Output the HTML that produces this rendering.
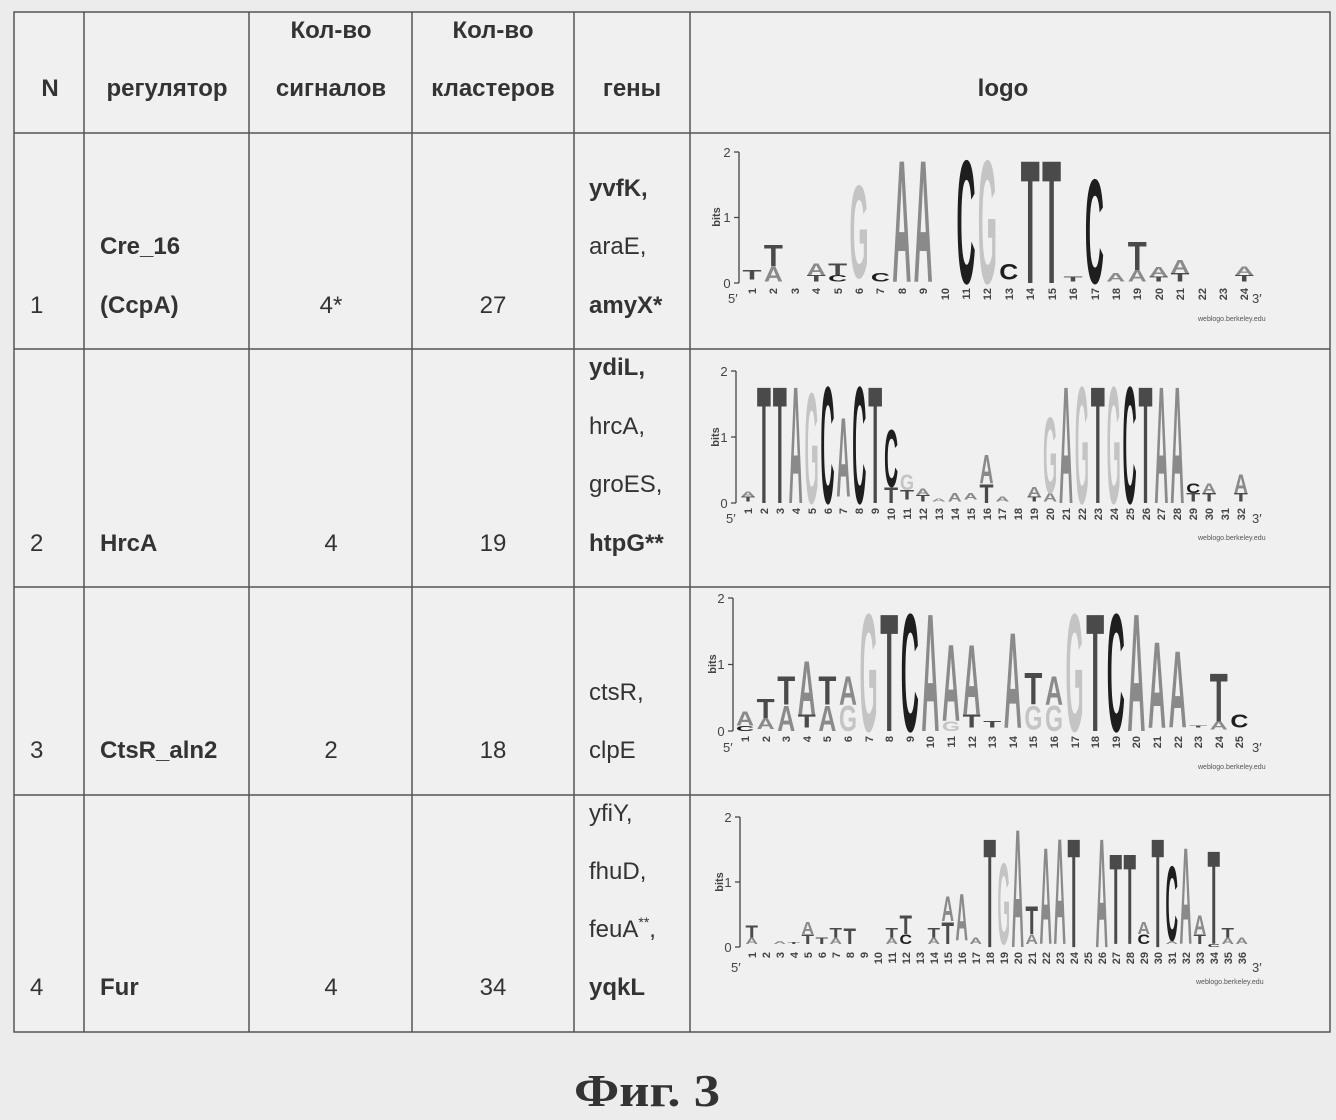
<!DOCTYPE html>
<html><head><meta charset="utf-8"><style>
html,body{margin:0;padding:0;background:#ececec}
svg{display:block}
.t{font-family:"Liberation Sans Narrow","Liberation Sans",sans-serif;font-size:24px;fill:#333}
.b{font-weight:bold}
.L{overflow:visible}
.L text{font-family:"Liberation Sans",sans-serif;font-weight:bold;font-size:100px}
.A{fill:#8a8a8a}.C{fill:#1e1e1e}.G{fill:#c4c4c4}.T{fill:#4a4a4a}
.ax{stroke:#444;stroke-width:1.3;fill:none}
.sm{font-family:"Liberation Sans",sans-serif;font-size:11px;fill:#444;font-weight:bold}
.tk{font-family:"Liberation Sans",sans-serif;font-size:13px;fill:#444}
.wb{font-family:"Liberation Sans",sans-serif;font-size:7px;fill:#555}
</style></head><body>
<svg width="1336" height="1120" viewBox="0 0 1336 1120" xmlns="http://www.w3.org/2000/svg">
<rect width="1336" height="1120" fill="#ececec"/>
<rect x="14" y="12" width="1316" height="1020" fill="#f0f0f0" stroke="#555" stroke-width="1.5"/>
<g stroke="#555" stroke-width="1.5">
<line x1="84" y1="12" x2="84" y2="1032"/><line x1="249" y1="12" x2="249" y2="1032"/>
<line x1="412" y1="12" x2="412" y2="1032"/><line x1="574" y1="12" x2="574" y2="1032"/>
<line x1="690" y1="12" x2="690" y2="1032"/>
<line x1="14" y1="133" x2="1330" y2="133"/><line x1="14" y1="349" x2="1330" y2="349"/>
<line x1="14" y1="587" x2="1330" y2="587"/><line x1="14" y1="795" x2="1330" y2="795"/>
</g>
<g class="t b" text-anchor="middle">
<text x="50" y="96">N</text><text x="167" y="96">регулятор</text>
<text x="331" y="38">Кол-во</text><text x="331" y="96">сигналов</text>
<text x="493" y="38">Кол-во</text><text x="493" y="96">кластеров</text>
<text x="632" y="96">гены</text><text x="1003" y="96">logo</text>
</g>
<g class="t">
<text x="30" y="313">1</text><text x="30" y="551">2</text><text x="30" y="758">3</text><text x="30" y="995">4</text>
<text x="100" y="254" class="b">Cre_16</text><text x="100" y="313" class="b">(CcpA)</text>
<text x="100" y="551" class="b">HrcA</text><text x="100" y="758" class="b">CtsR_aln2</text><text x="100" y="995" class="b">Fur</text>
<g text-anchor="middle">
<text x="331" y="313">4*</text><text x="493" y="313">27</text>
<text x="331" y="551">4</text><text x="493" y="551">19</text>
<text x="331" y="758">2</text><text x="493" y="758">18</text>
<text x="331" y="995">4</text><text x="493" y="995">34</text>
</g>
<text x="589" y="196" class="b">yvfK,</text><text x="589" y="254">araE,</text><text x="589" y="313" class="b">amyX*</text>
<text x="589" y="375" class="b">ydiL,</text><text x="589" y="434">hrcA,</text><text x="589" y="492">groES,</text><text x="589" y="551" class="b">htpG**</text>
<text x="589" y="700">ctsR,</text><text x="589" y="758">clpE</text>
<text x="589" y="821">yfiY,</text><text x="589" y="879">fhuD,</text><text x="589" y="937">feuA<tspan font-size="14" dy="-10">**</tspan><tspan dy="10">,</tspan></text><text x="589" y="995" class="b">yqkL</text>
</g>

<!-- LOGO 1 -->
<g>
<path class="ax" d="M739 152V283M734 152H739M734 217.5H739M734 283H739"/>
<text class="tk" x="727" y="157" text-anchor="middle">2</text><text class="tk" x="727" y="222" text-anchor="middle">1</text><text class="tk" x="727" y="288" text-anchor="middle">0</text>
<text class="sm" transform="translate(720,217) rotate(-90)" text-anchor="middle">bits</text>
<text class="tk" x="728" y="303">5′</text><text class="tk" x="1252" y="303">3′</text>
<text class="wb" x="1198" y="321">weblogo.berkeley.edu</text>
<g class="sm" text-anchor="end">
<text transform="translate(756,288) rotate(-90)">1</text><text transform="translate(777,288) rotate(-90)">2</text><text transform="translate(799,288) rotate(-90)">3</text><text transform="translate(820,288) rotate(-90)">4</text><text transform="translate(842,288) rotate(-90)">5</text><text transform="translate(863,288) rotate(-90)">6</text><text transform="translate(884,288) rotate(-90)">7</text><text transform="translate(906,288) rotate(-90)">8</text><text transform="translate(927,288) rotate(-90)">9</text><text transform="translate(949,288) rotate(-90)">10</text><text transform="translate(970,288) rotate(-90)">11</text><text transform="translate(991,288) rotate(-90)">12</text><text transform="translate(1013,288) rotate(-90)">13</text><text transform="translate(1034,288) rotate(-90)">14</text><text transform="translate(1056,288) rotate(-90)">15</text><text transform="translate(1077,288) rotate(-90)">16</text><text transform="translate(1099,288) rotate(-90)">17</text><text transform="translate(1120,288) rotate(-90)">18</text><text transform="translate(1141,288) rotate(-90)">19</text><text transform="translate(1163,288) rotate(-90)">20</text><text transform="translate(1184,288) rotate(-90)">21</text><text transform="translate(1206,288) rotate(-90)">22</text><text transform="translate(1227,288) rotate(-90)">23</text><text transform="translate(1248,288) rotate(-90)">24</text>
</g>
<g transform="translate(4,0)">
<svg class="L" x="738.5" y="269.8" width="19" height="9.9" viewBox="0 0 70 73" preserveAspectRatio="none"><text class="T" y="73" textLength="70" lengthAdjust="spacingAndGlyphs">T</text></svg>
<svg class="L" x="759.9" y="266.5" width="19" height="15.2" viewBox="0 0 70 73" preserveAspectRatio="none"><text class="A" y="73" textLength="70" lengthAdjust="spacingAndGlyphs">A</text></svg>
<svg class="L" x="759.9" y="243.4" width="19" height="23.1" viewBox="0 0 70 73" preserveAspectRatio="none"><text class="T" y="73" textLength="70" lengthAdjust="spacingAndGlyphs">T</text></svg>
<svg class="L" x="802.7" y="275.1" width="19" height="6.6" viewBox="0 0 70 73" preserveAspectRatio="none"><text class="T" y="73" textLength="70" lengthAdjust="spacingAndGlyphs">T</text></svg>
<svg class="L" x="802.7" y="263.2" width="19" height="11.9" viewBox="0 0 70 73" preserveAspectRatio="none"><text class="A" y="73" textLength="70" lengthAdjust="spacingAndGlyphs">A</text></svg>
<svg class="L" x="824.1" y="275.1" width="19" height="6.6" viewBox="0 0 70 73" preserveAspectRatio="none"><text class="C" y="73" textLength="70" lengthAdjust="spacingAndGlyphs">C</text></svg>
<svg class="L" x="824.1" y="263.2" width="19" height="11.9" viewBox="0 0 70 73" preserveAspectRatio="none"><text class="T" y="73" textLength="70" lengthAdjust="spacingAndGlyphs">T</text></svg>
<svg class="L" x="845.5" y="180.7" width="19" height="97" viewBox="0 0 70 73" preserveAspectRatio="none"><text class="G" y="73" textLength="70" lengthAdjust="spacingAndGlyphs">G</text></svg>
<svg class="L" x="866.9" y="273.1" width="19" height="8.6" viewBox="0 0 70 73" preserveAspectRatio="none"><text class="C" y="73" textLength="70" lengthAdjust="spacingAndGlyphs">C</text></svg>
<svg class="L" x="888.3" y="154.3" width="19" height="127.4" viewBox="0 0 70 73" preserveAspectRatio="none"><text class="A" y="73" textLength="70" lengthAdjust="spacingAndGlyphs">A</text></svg>
<svg class="L" x="909.7" y="154.3" width="19" height="127.4" viewBox="0 0 70 73" preserveAspectRatio="none"><text class="A" y="73" textLength="70" lengthAdjust="spacingAndGlyphs">A</text></svg>
<svg class="L" x="952.5" y="154.3" width="19" height="128.7" viewBox="0 0 70 73" preserveAspectRatio="none"><text class="C" y="73" textLength="70" lengthAdjust="spacingAndGlyphs">C</text></svg>
<svg class="L" x="973.9" y="154.3" width="19" height="128.7" viewBox="0 0 70 73" preserveAspectRatio="none"><text class="G" y="73" textLength="70" lengthAdjust="spacingAndGlyphs">G</text></svg>
<svg class="L" x="995.3" y="263.2" width="19" height="16.5" viewBox="0 0 70 73" preserveAspectRatio="none"><text class="C" y="73" textLength="70" lengthAdjust="spacingAndGlyphs">C</text></svg>
<svg class="L" x="1016.7" y="154.3" width="19" height="128.7" viewBox="0 0 70 73" preserveAspectRatio="none"><text class="T" y="73" textLength="70" lengthAdjust="spacingAndGlyphs">T</text></svg>
<svg class="L" x="1038.1" y="154.3" width="19" height="128.7" viewBox="0 0 70 73" preserveAspectRatio="none"><text class="T" y="73" textLength="70" lengthAdjust="spacingAndGlyphs">T</text></svg>
<svg class="L" x="1059.5" y="276.4" width="19" height="5.3" viewBox="0 0 70 73" preserveAspectRatio="none"><text class="T" y="73" textLength="70" lengthAdjust="spacingAndGlyphs">T</text></svg>
<svg class="L" x="1080.9" y="174.1" width="19" height="108.9" viewBox="0 0 70 73" preserveAspectRatio="none"><text class="C" y="73" textLength="70" lengthAdjust="spacingAndGlyphs">C</text></svg>
<svg class="L" x="1102.3" y="273.1" width="19" height="8.6" viewBox="0 0 70 73" preserveAspectRatio="none"><text class="A" y="73" textLength="70" lengthAdjust="spacingAndGlyphs">A</text></svg>
<svg class="L" x="1123.7" y="269.8" width="19" height="11.9" viewBox="0 0 70 73" preserveAspectRatio="none"><text class="A" y="73" textLength="70" lengthAdjust="spacingAndGlyphs">A</text></svg>
<svg class="L" x="1123.7" y="240.1" width="19" height="29.7" viewBox="0 0 70 73" preserveAspectRatio="none"><text class="T" y="73" textLength="70" lengthAdjust="spacingAndGlyphs">T</text></svg>
<svg class="L" x="1145.1" y="276.4" width="19" height="5.3" viewBox="0 0 70 73" preserveAspectRatio="none"><text class="T" y="73" textLength="70" lengthAdjust="spacingAndGlyphs">T</text></svg>
<svg class="L" x="1145.1" y="266.5" width="19" height="9.9" viewBox="0 0 70 73" preserveAspectRatio="none"><text class="A" y="73" textLength="70" lengthAdjust="spacingAndGlyphs">A</text></svg>
<svg class="L" x="1166.5" y="273.1" width="19" height="8.6" viewBox="0 0 70 73" preserveAspectRatio="none"><text class="T" y="73" textLength="70" lengthAdjust="spacingAndGlyphs">T</text></svg>
<svg class="L" x="1166.5" y="259.9" width="19" height="13.2" viewBox="0 0 70 73" preserveAspectRatio="none"><text class="A" y="73" textLength="70" lengthAdjust="spacingAndGlyphs">A</text></svg>
<svg class="L" x="1230.7" y="275.1" width="19" height="6.6" viewBox="0 0 70 73" preserveAspectRatio="none"><text class="T" y="73" textLength="70" lengthAdjust="spacingAndGlyphs">T</text></svg>
<svg class="L" x="1230.7" y="266.5" width="19" height="8.6" viewBox="0 0 70 73" preserveAspectRatio="none"><text class="A" y="73" textLength="70" lengthAdjust="spacingAndGlyphs">A</text></svg>
</g>
</g>

<!-- LOGO 2 -->
<g>
<path class="ax" d="M736 371V503M731 371H736M731 437H736M731 503H736"/>
<text class="tk" x="724" y="376" text-anchor="middle">2</text><text class="tk" x="724" y="442" text-anchor="middle">1</text><text class="tk" x="724" y="508" text-anchor="middle">0</text>
<text class="sm" transform="translate(719,437) rotate(-90)" text-anchor="middle">bits</text>
<text class="tk" x="726" y="523">5′</text><text class="tk" x="1252" y="523">3′</text>
<text class="wb" x="1198" y="540">weblogo.berkeley.edu</text>
<g class="sm" text-anchor="end">
<text transform="translate(752,508) rotate(-90)">1</text><text transform="translate(768,508) rotate(-90)">2</text><text transform="translate(784,508) rotate(-90)">3</text><text transform="translate(800,508) rotate(-90)">4</text><text transform="translate(816,508) rotate(-90)">5</text><text transform="translate(832,508) rotate(-90)">6</text><text transform="translate(847,508) rotate(-90)">7</text><text transform="translate(863,508) rotate(-90)">8</text><text transform="translate(879,508) rotate(-90)">9</text><text transform="translate(895,508) rotate(-90)">10</text><text transform="translate(911,508) rotate(-90)">11</text><text transform="translate(927,508) rotate(-90)">12</text><text transform="translate(943,508) rotate(-90)">13</text><text transform="translate(959,508) rotate(-90)">14</text><text transform="translate(975,508) rotate(-90)">15</text><text transform="translate(991,508) rotate(-90)">16</text><text transform="translate(1006,508) rotate(-90)">17</text><text transform="translate(1022,508) rotate(-90)">18</text><text transform="translate(1038,508) rotate(-90)">19</text><text transform="translate(1054,508) rotate(-90)">20</text><text transform="translate(1070,508) rotate(-90)">21</text><text transform="translate(1086,508) rotate(-90)">22</text><text transform="translate(1102,508) rotate(-90)">23</text><text transform="translate(1118,508) rotate(-90)">24</text><text transform="translate(1134,508) rotate(-90)">25</text><text transform="translate(1150,508) rotate(-90)">26</text><text transform="translate(1165,508) rotate(-90)">27</text><text transform="translate(1181,508) rotate(-90)">28</text><text transform="translate(1197,508) rotate(-90)">29</text><text transform="translate(1213,508) rotate(-90)">30</text><text transform="translate(1229,508) rotate(-90)">31</text><text transform="translate(1245,508) rotate(-90)">32</text>
</g>
<svg class="L" x="741" y="496.4" width="14" height="5.3" viewBox="0 0 70 73" preserveAspectRatio="none"><text class="T" y="73" textLength="70" lengthAdjust="spacingAndGlyphs">T</text></svg>
<svg class="L" x="741" y="491.1" width="14" height="5.3" viewBox="0 0 70 73" preserveAspectRatio="none"><text class="A" y="73" textLength="70" lengthAdjust="spacingAndGlyphs">A</text></svg>
<svg class="L" x="756.9" y="380.9" width="14" height="122.1" viewBox="0 0 70 73" preserveAspectRatio="none"><text class="T" y="73" textLength="70" lengthAdjust="spacingAndGlyphs">T</text></svg>
<svg class="L" x="772.8" y="380.9" width="14" height="122.1" viewBox="0 0 70 73" preserveAspectRatio="none"><text class="T" y="73" textLength="70" lengthAdjust="spacingAndGlyphs">T</text></svg>
<svg class="L" x="788.7" y="380.9" width="14" height="122.1" viewBox="0 0 70 73" preserveAspectRatio="none"><text class="A" y="73" textLength="70" lengthAdjust="spacingAndGlyphs">A</text></svg>
<svg class="L" x="804.6" y="387.5" width="14" height="115.5" viewBox="0 0 70 73" preserveAspectRatio="none"><text class="G" y="73" textLength="70" lengthAdjust="spacingAndGlyphs">G</text></svg>
<svg class="L" x="820.5" y="380.9" width="14" height="122.1" viewBox="0 0 70 73" preserveAspectRatio="none"><text class="C" y="73" textLength="70" lengthAdjust="spacingAndGlyphs">C</text></svg>
<svg class="L" x="836.4" y="413.9" width="14" height="82.5" viewBox="0 0 70 73" preserveAspectRatio="none"><text class="A" y="73" textLength="70" lengthAdjust="spacingAndGlyphs">A</text></svg>
<svg class="L" x="852.3" y="380.9" width="14" height="122.1" viewBox="0 0 70 73" preserveAspectRatio="none"><text class="C" y="73" textLength="70" lengthAdjust="spacingAndGlyphs">C</text></svg>
<svg class="L" x="868.2" y="380.9" width="14" height="122.1" viewBox="0 0 70 73" preserveAspectRatio="none"><text class="T" y="73" textLength="70" lengthAdjust="spacingAndGlyphs">T</text></svg>
<svg class="L" x="884.1" y="486.5" width="14" height="16.5" viewBox="0 0 70 73" preserveAspectRatio="none"><text class="T" y="73" textLength="70" lengthAdjust="spacingAndGlyphs">T</text></svg>
<svg class="L" x="884.1" y="427.1" width="14" height="59.4" viewBox="0 0 70 73" preserveAspectRatio="none"><text class="C" y="73" textLength="70" lengthAdjust="spacingAndGlyphs">C</text></svg>
<svg class="L" x="900" y="489.8" width="14" height="9.9" viewBox="0 0 70 73" preserveAspectRatio="none"><text class="T" y="73" textLength="70" lengthAdjust="spacingAndGlyphs">T</text></svg>
<svg class="L" x="900" y="473.3" width="14" height="16.5" viewBox="0 0 70 73" preserveAspectRatio="none"><text class="G" y="73" textLength="70" lengthAdjust="spacingAndGlyphs">G</text></svg>
<svg class="L" x="915.9" y="495.1" width="14" height="6.6" viewBox="0 0 70 73" preserveAspectRatio="none"><text class="T" y="73" textLength="70" lengthAdjust="spacingAndGlyphs">T</text></svg>
<svg class="L" x="915.9" y="488.5" width="14" height="6.6" viewBox="0 0 70 73" preserveAspectRatio="none"><text class="A" y="73" textLength="70" lengthAdjust="spacingAndGlyphs">A</text></svg>
<svg class="L" x="931.8" y="498.4" width="14" height="3" viewBox="0 0 70 73" preserveAspectRatio="none"><text class="A" y="73" textLength="70" lengthAdjust="spacingAndGlyphs">A</text></svg>
<svg class="L" x="947.7" y="493.1" width="14" height="8.6" viewBox="0 0 70 73" preserveAspectRatio="none"><text class="A" y="73" textLength="70" lengthAdjust="spacingAndGlyphs">A</text></svg>
<svg class="L" x="963.6" y="493.1" width="14" height="6.6" viewBox="0 0 70 73" preserveAspectRatio="none"><text class="A" y="73" textLength="70" lengthAdjust="spacingAndGlyphs">A</text></svg>
<svg class="L" x="979.5" y="483.2" width="14" height="19.8" viewBox="0 0 70 73" preserveAspectRatio="none"><text class="T" y="73" textLength="70" lengthAdjust="spacingAndGlyphs">T</text></svg>
<svg class="L" x="979.5" y="453.5" width="14" height="29.7" viewBox="0 0 70 73" preserveAspectRatio="none"><text class="A" y="73" textLength="70" lengthAdjust="spacingAndGlyphs">A</text></svg>
<svg class="L" x="995.4" y="496.4" width="14" height="5.3" viewBox="0 0 70 73" preserveAspectRatio="none"><text class="A" y="73" textLength="70" lengthAdjust="spacingAndGlyphs">A</text></svg>
<svg class="L" x="1027.2" y="496.4" width="14" height="5.3" viewBox="0 0 70 73" preserveAspectRatio="none"><text class="T" y="73" textLength="70" lengthAdjust="spacingAndGlyphs">T</text></svg>
<svg class="L" x="1027.2" y="486.5" width="14" height="9.9" viewBox="0 0 70 73" preserveAspectRatio="none"><text class="A" y="73" textLength="70" lengthAdjust="spacingAndGlyphs">A</text></svg>
<svg class="L" x="1043.1" y="493.1" width="14" height="8.6" viewBox="0 0 70 73" preserveAspectRatio="none"><text class="A" y="73" textLength="70" lengthAdjust="spacingAndGlyphs">A</text></svg>
<svg class="L" x="1043.1" y="413.9" width="14" height="79.2" viewBox="0 0 70 73" preserveAspectRatio="none"><text class="G" y="73" textLength="70" lengthAdjust="spacingAndGlyphs">G</text></svg>
<svg class="L" x="1059" y="380.9" width="14" height="122.1" viewBox="0 0 70 73" preserveAspectRatio="none"><text class="A" y="73" textLength="70" lengthAdjust="spacingAndGlyphs">A</text></svg>
<svg class="L" x="1074.9" y="380.9" width="14" height="122.1" viewBox="0 0 70 73" preserveAspectRatio="none"><text class="G" y="73" textLength="70" lengthAdjust="spacingAndGlyphs">G</text></svg>
<svg class="L" x="1090.8" y="380.9" width="14" height="122.1" viewBox="0 0 70 73" preserveAspectRatio="none"><text class="T" y="73" textLength="70" lengthAdjust="spacingAndGlyphs">T</text></svg>
<svg class="L" x="1106.7" y="380.9" width="14" height="122.1" viewBox="0 0 70 73" preserveAspectRatio="none"><text class="G" y="73" textLength="70" lengthAdjust="spacingAndGlyphs">G</text></svg>
<svg class="L" x="1122.6" y="380.9" width="14" height="122.1" viewBox="0 0 70 73" preserveAspectRatio="none"><text class="C" y="73" textLength="70" lengthAdjust="spacingAndGlyphs">C</text></svg>
<svg class="L" x="1138.5" y="380.9" width="14" height="122.1" viewBox="0 0 70 73" preserveAspectRatio="none"><text class="T" y="73" textLength="70" lengthAdjust="spacingAndGlyphs">T</text></svg>
<svg class="L" x="1154.4" y="380.9" width="14" height="122.1" viewBox="0 0 70 73" preserveAspectRatio="none"><text class="A" y="73" textLength="70" lengthAdjust="spacingAndGlyphs">A</text></svg>
<svg class="L" x="1170.3" y="380.9" width="14" height="122.1" viewBox="0 0 70 73" preserveAspectRatio="none"><text class="A" y="73" textLength="70" lengthAdjust="spacingAndGlyphs">A</text></svg>
<svg class="L" x="1186.2" y="493.1" width="14" height="8.6" viewBox="0 0 70 73" preserveAspectRatio="none"><text class="T" y="73" textLength="70" lengthAdjust="spacingAndGlyphs">T</text></svg>
<svg class="L" x="1186.2" y="483.2" width="14" height="9.9" viewBox="0 0 70 73" preserveAspectRatio="none"><text class="C" y="73" textLength="70" lengthAdjust="spacingAndGlyphs">C</text></svg>
<svg class="L" x="1202.1" y="493.1" width="14" height="8.6" viewBox="0 0 70 73" preserveAspectRatio="none"><text class="T" y="73" textLength="70" lengthAdjust="spacingAndGlyphs">T</text></svg>
<svg class="L" x="1202.1" y="483.2" width="14" height="9.9" viewBox="0 0 70 73" preserveAspectRatio="none"><text class="A" y="73" textLength="70" lengthAdjust="spacingAndGlyphs">A</text></svg>
<svg class="L" x="1233.9" y="493.1" width="14" height="8.6" viewBox="0 0 70 73" preserveAspectRatio="none"><text class="T" y="73" textLength="70" lengthAdjust="spacingAndGlyphs">T</text></svg>
<svg class="L" x="1233.9" y="473.3" width="14" height="19.8" viewBox="0 0 70 73" preserveAspectRatio="none"><text class="A" y="73" textLength="70" lengthAdjust="spacingAndGlyphs">A</text></svg>
</g>

<!-- LOGO 3 -->
<g>
<path class="ax" d="M733 598V731M728 598H733M728 664.5H733M728 731H733"/>
<text class="tk" x="721" y="603" text-anchor="middle">2</text><text class="tk" x="721" y="669" text-anchor="middle">1</text><text class="tk" x="721" y="736" text-anchor="middle">0</text>
<text class="sm" transform="translate(716,664) rotate(-90)" text-anchor="middle">bits</text>
<text class="tk" x="723" y="752">5′</text><text class="tk" x="1252" y="752">3′</text>
<text class="wb" x="1198" y="769">weblogo.berkeley.edu</text>
<g class="sm" text-anchor="end">
<text transform="translate(749,736) rotate(-90)">1</text><text transform="translate(770,736) rotate(-90)">2</text><text transform="translate(790,736) rotate(-90)">3</text><text transform="translate(811,736) rotate(-90)">4</text><text transform="translate(831,736) rotate(-90)">5</text><text transform="translate(852,736) rotate(-90)">6</text><text transform="translate(873,736) rotate(-90)">7</text><text transform="translate(893,736) rotate(-90)">8</text><text transform="translate(914,736) rotate(-90)">9</text><text transform="translate(934,736) rotate(-90)">10</text><text transform="translate(955,736) rotate(-90)">11</text><text transform="translate(976,736) rotate(-90)">12</text><text transform="translate(996,736) rotate(-90)">13</text><text transform="translate(1017,736) rotate(-90)">14</text><text transform="translate(1037,736) rotate(-90)">15</text><text transform="translate(1058,736) rotate(-90)">16</text><text transform="translate(1079,736) rotate(-90)">17</text><text transform="translate(1099,736) rotate(-90)">18</text><text transform="translate(1120,736) rotate(-90)">19</text><text transform="translate(1140,736) rotate(-90)">20</text><text transform="translate(1161,736) rotate(-90)">21</text><text transform="translate(1182,736) rotate(-90)">22</text><text transform="translate(1202,736) rotate(-90)">23</text><text transform="translate(1223,736) rotate(-90)">24</text><text transform="translate(1243,736) rotate(-90)">25</text>
</g>
<svg class="L" x="736" y="725.7" width="18" height="5.3" viewBox="0 0 70 73" preserveAspectRatio="none"><text class="C" y="73" textLength="70" lengthAdjust="spacingAndGlyphs">C</text></svg>
<svg class="L" x="736" y="711" width="18" height="14.6" viewBox="0 0 70 73" preserveAspectRatio="none"><text class="A" y="73" textLength="70" lengthAdjust="spacingAndGlyphs">A</text></svg>
<svg class="L" x="756.6" y="717.7" width="18" height="11.3" viewBox="0 0 70 73" preserveAspectRatio="none"><text class="A" y="73" textLength="70" lengthAdjust="spacingAndGlyphs">A</text></svg>
<svg class="L" x="756.6" y="697.8" width="18" height="20" viewBox="0 0 70 73" preserveAspectRatio="none"><text class="T" y="73" textLength="70" lengthAdjust="spacingAndGlyphs">T</text></svg>
<svg class="L" x="777.2" y="704.4" width="18" height="26.6" viewBox="0 0 70 73" preserveAspectRatio="none"><text class="A" y="73" textLength="70" lengthAdjust="spacingAndGlyphs">A</text></svg>
<svg class="L" x="777.2" y="674.5" width="18" height="29.9" viewBox="0 0 70 73" preserveAspectRatio="none"><text class="T" y="73" textLength="70" lengthAdjust="spacingAndGlyphs">T</text></svg>
<svg class="L" x="797.8" y="714.4" width="18" height="13.3" viewBox="0 0 70 73" preserveAspectRatio="none"><text class="T" y="73" textLength="70" lengthAdjust="spacingAndGlyphs">T</text></svg>
<svg class="L" x="797.8" y="657.9" width="18" height="56.5" viewBox="0 0 70 73" preserveAspectRatio="none"><text class="A" y="73" textLength="70" lengthAdjust="spacingAndGlyphs">A</text></svg>
<svg class="L" x="818.4" y="704.4" width="18" height="26.6" viewBox="0 0 70 73" preserveAspectRatio="none"><text class="A" y="73" textLength="70" lengthAdjust="spacingAndGlyphs">A</text></svg>
<svg class="L" x="818.4" y="674.5" width="18" height="29.9" viewBox="0 0 70 73" preserveAspectRatio="none"><text class="T" y="73" textLength="70" lengthAdjust="spacingAndGlyphs">T</text></svg>
<svg class="L" x="839" y="704.4" width="18" height="26.6" viewBox="0 0 70 73" preserveAspectRatio="none"><text class="G" y="73" textLength="70" lengthAdjust="spacingAndGlyphs">G</text></svg>
<svg class="L" x="839" y="674.5" width="18" height="29.9" viewBox="0 0 70 73" preserveAspectRatio="none"><text class="A" y="73" textLength="70" lengthAdjust="spacingAndGlyphs">A</text></svg>
<svg class="L" x="859.6" y="608" width="18" height="123" viewBox="0 0 70 73" preserveAspectRatio="none"><text class="G" y="73" textLength="70" lengthAdjust="spacingAndGlyphs">G</text></svg>
<svg class="L" x="880.2" y="608" width="18" height="123" viewBox="0 0 70 73" preserveAspectRatio="none"><text class="T" y="73" textLength="70" lengthAdjust="spacingAndGlyphs">T</text></svg>
<svg class="L" x="900.8" y="608" width="18" height="123" viewBox="0 0 70 73" preserveAspectRatio="none"><text class="C" y="73" textLength="70" lengthAdjust="spacingAndGlyphs">C</text></svg>
<svg class="L" x="921.4" y="608" width="18" height="123" viewBox="0 0 70 73" preserveAspectRatio="none"><text class="A" y="73" textLength="70" lengthAdjust="spacingAndGlyphs">A</text></svg>
<svg class="L" x="942" y="721" width="18" height="10" viewBox="0 0 70 73" preserveAspectRatio="none"><text class="G" y="73" textLength="70" lengthAdjust="spacingAndGlyphs">G</text></svg>
<svg class="L" x="942" y="641.2" width="18" height="79.8" viewBox="0 0 70 73" preserveAspectRatio="none"><text class="A" y="73" textLength="70" lengthAdjust="spacingAndGlyphs">A</text></svg>
<svg class="L" x="962.6" y="714.4" width="18" height="13.3" viewBox="0 0 70 73" preserveAspectRatio="none"><text class="T" y="73" textLength="70" lengthAdjust="spacingAndGlyphs">T</text></svg>
<svg class="L" x="962.6" y="641.2" width="18" height="73.2" viewBox="0 0 70 73" preserveAspectRatio="none"><text class="A" y="73" textLength="70" lengthAdjust="spacingAndGlyphs">A</text></svg>
<svg class="L" x="983.2" y="721" width="18" height="6.7" viewBox="0 0 70 73" preserveAspectRatio="none"><text class="T" y="73" textLength="70" lengthAdjust="spacingAndGlyphs">T</text></svg>
<svg class="L" x="1003.8" y="627.9" width="18" height="99.8" viewBox="0 0 70 73" preserveAspectRatio="none"><text class="A" y="73" textLength="70" lengthAdjust="spacingAndGlyphs">A</text></svg>
<svg class="L" x="1024.4" y="704.4" width="18" height="25.3" viewBox="0 0 70 73" preserveAspectRatio="none"><text class="G" y="73" textLength="70" lengthAdjust="spacingAndGlyphs">G</text></svg>
<svg class="L" x="1024.4" y="671.1" width="18" height="33.3" viewBox="0 0 70 73" preserveAspectRatio="none"><text class="T" y="73" textLength="70" lengthAdjust="spacingAndGlyphs">T</text></svg>
<svg class="L" x="1045" y="704.4" width="18" height="26.6" viewBox="0 0 70 73" preserveAspectRatio="none"><text class="G" y="73" textLength="70" lengthAdjust="spacingAndGlyphs">G</text></svg>
<svg class="L" x="1045" y="674.5" width="18" height="29.9" viewBox="0 0 70 73" preserveAspectRatio="none"><text class="A" y="73" textLength="70" lengthAdjust="spacingAndGlyphs">A</text></svg>
<svg class="L" x="1065.6" y="608" width="18" height="123" viewBox="0 0 70 73" preserveAspectRatio="none"><text class="G" y="73" textLength="70" lengthAdjust="spacingAndGlyphs">G</text></svg>
<svg class="L" x="1086.2" y="608" width="18" height="123" viewBox="0 0 70 73" preserveAspectRatio="none"><text class="T" y="73" textLength="70" lengthAdjust="spacingAndGlyphs">T</text></svg>
<svg class="L" x="1106.8" y="608" width="18" height="123" viewBox="0 0 70 73" preserveAspectRatio="none"><text class="C" y="73" textLength="70" lengthAdjust="spacingAndGlyphs">C</text></svg>
<svg class="L" x="1127.4" y="608" width="18" height="123" viewBox="0 0 70 73" preserveAspectRatio="none"><text class="A" y="73" textLength="70" lengthAdjust="spacingAndGlyphs">A</text></svg>
<svg class="L" x="1148" y="637.9" width="18" height="89.8" viewBox="0 0 70 73" preserveAspectRatio="none"><text class="A" y="73" textLength="70" lengthAdjust="spacingAndGlyphs">A</text></svg>
<svg class="L" x="1168.6" y="647.9" width="18" height="79.8" viewBox="0 0 70 73" preserveAspectRatio="none"><text class="A" y="73" textLength="70" lengthAdjust="spacingAndGlyphs">A</text></svg>
<svg class="L" x="1189.2" y="725.7" width="18" height="2" viewBox="0 0 70 73" preserveAspectRatio="none"><text class="T" y="73" textLength="70" lengthAdjust="spacingAndGlyphs">T</text></svg>
<svg class="L" x="1209.8" y="721" width="18" height="8.6" viewBox="0 0 70 73" preserveAspectRatio="none"><text class="A" y="73" textLength="70" lengthAdjust="spacingAndGlyphs">A</text></svg>
<svg class="L" x="1209.8" y="671.1" width="18" height="49.9" viewBox="0 0 70 73" preserveAspectRatio="none"><text class="T" y="73" textLength="70" lengthAdjust="spacingAndGlyphs">T</text></svg>
<svg class="L" x="1230.4" y="714.4" width="18" height="13.3" viewBox="0 0 70 73" preserveAspectRatio="none"><text class="C" y="73" textLength="70" lengthAdjust="spacingAndGlyphs">C</text></svg>
</g>

<!-- LOGO 4 -->
<g>
<path class="ax" d="M740 817V947M735 817H740M735 882H740M735 947H740"/>
<text class="tk" x="728" y="822" text-anchor="middle">2</text><text class="tk" x="728" y="887" text-anchor="middle">1</text><text class="tk" x="728" y="952" text-anchor="middle">0</text>
<text class="sm" transform="translate(723,882) rotate(-90)" text-anchor="middle">bits</text>
<text class="tk" x="731" y="972">5′</text><text class="tk" x="1252" y="972">3′</text>
<text class="wb" x="1196" y="984">weblogo.berkeley.edu</text>
<g class="sm" text-anchor="end">
<text transform="translate(756,952) rotate(-90)">1</text><text transform="translate(770,952) rotate(-90)">2</text><text transform="translate(784,952) rotate(-90)">3</text><text transform="translate(798,952) rotate(-90)">4</text><text transform="translate(812,952) rotate(-90)">5</text><text transform="translate(826,952) rotate(-90)">6</text><text transform="translate(840,952) rotate(-90)">7</text><text transform="translate(854,952) rotate(-90)">8</text><text transform="translate(868,952) rotate(-90)">9</text><text transform="translate(882,952) rotate(-90)">10</text><text transform="translate(896,952) rotate(-90)">11</text><text transform="translate(910,952) rotate(-90)">12</text><text transform="translate(924,952) rotate(-90)">13</text><text transform="translate(938,952) rotate(-90)">14</text><text transform="translate(952,952) rotate(-90)">15</text><text transform="translate(966,952) rotate(-90)">16</text><text transform="translate(980,952) rotate(-90)">17</text><text transform="translate(994,952) rotate(-90)">18</text><text transform="translate(1008,952) rotate(-90)">19</text><text transform="translate(1022,952) rotate(-90)">20</text><text transform="translate(1036,952) rotate(-90)">21</text><text transform="translate(1050,952) rotate(-90)">22</text><text transform="translate(1064,952) rotate(-90)">23</text><text transform="translate(1078,952) rotate(-90)">24</text><text transform="translate(1092,952) rotate(-90)">25</text><text transform="translate(1106,952) rotate(-90)">26</text><text transform="translate(1120,952) rotate(-90)">27</text><text transform="translate(1134,952) rotate(-90)">28</text><text transform="translate(1148,952) rotate(-90)">29</text><text transform="translate(1162,952) rotate(-90)">30</text><text transform="translate(1176,952) rotate(-90)">31</text><text transform="translate(1190,952) rotate(-90)">32</text><text transform="translate(1204,952) rotate(-90)">33</text><text transform="translate(1218,952) rotate(-90)">34</text><text transform="translate(1232,952) rotate(-90)">35</text><text transform="translate(1246,952) rotate(-90)">36</text>
</g>
<svg class="L" x="745.5" y="937.3" width="12.5" height="6.5" viewBox="0 0 70 73" preserveAspectRatio="none"><text class="A" y="73" textLength="70" lengthAdjust="spacingAndGlyphs">A</text></svg>
<svg class="L" x="745.5" y="924.3" width="12.5" height="13" viewBox="0 0 70 73" preserveAspectRatio="none"><text class="T" y="73" textLength="70" lengthAdjust="spacingAndGlyphs">T</text></svg>
<svg class="L" x="773.5" y="940.5" width="12.5" height="3.3" viewBox="0 0 70 73" preserveAspectRatio="none"><text class="A" y="73" textLength="70" lengthAdjust="spacingAndGlyphs">A</text></svg>
<svg class="L" x="787.5" y="941.8" width="12.5" height="2" viewBox="0 0 70 73" preserveAspectRatio="none"><text class="T" y="73" textLength="70" lengthAdjust="spacingAndGlyphs">T</text></svg>
<svg class="L" x="801.5" y="934" width="12.5" height="9.8" viewBox="0 0 70 73" preserveAspectRatio="none"><text class="T" y="73" textLength="70" lengthAdjust="spacingAndGlyphs">T</text></svg>
<svg class="L" x="801.5" y="921" width="12.5" height="13" viewBox="0 0 70 73" preserveAspectRatio="none"><text class="A" y="73" textLength="70" lengthAdjust="spacingAndGlyphs">A</text></svg>
<svg class="L" x="815.5" y="937.3" width="12.5" height="6.5" viewBox="0 0 70 73" preserveAspectRatio="none"><text class="T" y="73" textLength="70" lengthAdjust="spacingAndGlyphs">T</text></svg>
<svg class="L" x="829.5" y="937.3" width="12.5" height="6.5" viewBox="0 0 70 73" preserveAspectRatio="none"><text class="A" y="73" textLength="70" lengthAdjust="spacingAndGlyphs">A</text></svg>
<svg class="L" x="829.5" y="927.5" width="12.5" height="9.8" viewBox="0 0 70 73" preserveAspectRatio="none"><text class="T" y="73" textLength="70" lengthAdjust="spacingAndGlyphs">T</text></svg>
<svg class="L" x="843.5" y="927.5" width="12.5" height="16.3" viewBox="0 0 70 73" preserveAspectRatio="none"><text class="T" y="73" textLength="70" lengthAdjust="spacingAndGlyphs">T</text></svg>
<svg class="L" x="885.5" y="937.3" width="12.5" height="6.5" viewBox="0 0 70 73" preserveAspectRatio="none"><text class="A" y="73" textLength="70" lengthAdjust="spacingAndGlyphs">A</text></svg>
<svg class="L" x="885.5" y="927.5" width="12.5" height="9.8" viewBox="0 0 70 73" preserveAspectRatio="none"><text class="T" y="73" textLength="70" lengthAdjust="spacingAndGlyphs">T</text></svg>
<svg class="L" x="899.5" y="934" width="12.5" height="9.8" viewBox="0 0 70 73" preserveAspectRatio="none"><text class="C" y="73" textLength="70" lengthAdjust="spacingAndGlyphs">C</text></svg>
<svg class="L" x="899.5" y="914.5" width="12.5" height="19.5" viewBox="0 0 70 73" preserveAspectRatio="none"><text class="T" y="73" textLength="70" lengthAdjust="spacingAndGlyphs">T</text></svg>
<svg class="L" x="927.5" y="937.3" width="12.5" height="6.5" viewBox="0 0 70 73" preserveAspectRatio="none"><text class="A" y="73" textLength="70" lengthAdjust="spacingAndGlyphs">A</text></svg>
<svg class="L" x="927.5" y="927.5" width="12.5" height="9.8" viewBox="0 0 70 73" preserveAspectRatio="none"><text class="T" y="73" textLength="70" lengthAdjust="spacingAndGlyphs">T</text></svg>
<svg class="L" x="941.5" y="921" width="12.5" height="22.8" viewBox="0 0 70 73" preserveAspectRatio="none"><text class="T" y="73" textLength="70" lengthAdjust="spacingAndGlyphs">T</text></svg>
<svg class="L" x="941.5" y="895" width="12.5" height="26" viewBox="0 0 70 73" preserveAspectRatio="none"><text class="A" y="73" textLength="70" lengthAdjust="spacingAndGlyphs">A</text></svg>
<svg class="L" x="955.5" y="891.8" width="12.5" height="48.7" viewBox="0 0 70 73" preserveAspectRatio="none"><text class="A" y="73" textLength="70" lengthAdjust="spacingAndGlyphs">A</text></svg>
<svg class="L" x="969.5" y="937.3" width="12.5" height="6.5" viewBox="0 0 70 73" preserveAspectRatio="none"><text class="A" y="73" textLength="70" lengthAdjust="spacingAndGlyphs">A</text></svg>
<svg class="L" x="983.5" y="833.3" width="12.5" height="113.8" viewBox="0 0 70 73" preserveAspectRatio="none"><text class="T" y="73" textLength="70" lengthAdjust="spacingAndGlyphs">T</text></svg>
<svg class="L" x="997.5" y="859.3" width="12.5" height="84.5" viewBox="0 0 70 73" preserveAspectRatio="none"><text class="G" y="73" textLength="70" lengthAdjust="spacingAndGlyphs">G</text></svg>
<svg class="L" x="1011.5" y="823.5" width="12.5" height="123.5" viewBox="0 0 70 73" preserveAspectRatio="none"><text class="A" y="73" textLength="70" lengthAdjust="spacingAndGlyphs">A</text></svg>
<svg class="L" x="1025.5" y="934" width="12.5" height="9.8" viewBox="0 0 70 73" preserveAspectRatio="none"><text class="A" y="73" textLength="70" lengthAdjust="spacingAndGlyphs">A</text></svg>
<svg class="L" x="1025.5" y="904.8" width="12.5" height="29.2" viewBox="0 0 70 73" preserveAspectRatio="none"><text class="T" y="73" textLength="70" lengthAdjust="spacingAndGlyphs">T</text></svg>
<svg class="L" x="1039.5" y="843" width="12.5" height="100.8" viewBox="0 0 70 73" preserveAspectRatio="none"><text class="A" y="73" textLength="70" lengthAdjust="spacingAndGlyphs">A</text></svg>
<svg class="L" x="1053.5" y="833.3" width="12.5" height="110.5" viewBox="0 0 70 73" preserveAspectRatio="none"><text class="A" y="73" textLength="70" lengthAdjust="spacingAndGlyphs">A</text></svg>
<svg class="L" x="1067.5" y="833.3" width="12.5" height="113.8" viewBox="0 0 70 73" preserveAspectRatio="none"><text class="T" y="73" textLength="70" lengthAdjust="spacingAndGlyphs">T</text></svg>
<svg class="L" x="1095.5" y="833.3" width="12.5" height="113.8" viewBox="0 0 70 73" preserveAspectRatio="none"><text class="A" y="73" textLength="70" lengthAdjust="spacingAndGlyphs">A</text></svg>
<svg class="L" x="1109.5" y="849.5" width="12.5" height="94.3" viewBox="0 0 70 73" preserveAspectRatio="none"><text class="T" y="73" textLength="70" lengthAdjust="spacingAndGlyphs">T</text></svg>
<svg class="L" x="1123.5" y="849.5" width="12.5" height="94.3" viewBox="0 0 70 73" preserveAspectRatio="none"><text class="T" y="73" textLength="70" lengthAdjust="spacingAndGlyphs">T</text></svg>
<svg class="L" x="1137.5" y="934" width="12.5" height="9.8" viewBox="0 0 70 73" preserveAspectRatio="none"><text class="C" y="73" textLength="70" lengthAdjust="spacingAndGlyphs">C</text></svg>
<svg class="L" x="1137.5" y="921" width="12.5" height="13" viewBox="0 0 70 73" preserveAspectRatio="none"><text class="A" y="73" textLength="70" lengthAdjust="spacingAndGlyphs">A</text></svg>
<svg class="L" x="1151.5" y="833.3" width="12.5" height="113.8" viewBox="0 0 70 73" preserveAspectRatio="none"><text class="T" y="73" textLength="70" lengthAdjust="spacingAndGlyphs">T</text></svg>
<svg class="L" x="1165.5" y="940.5" width="12.5" height="3.3" viewBox="0 0 70 73" preserveAspectRatio="none"><text class="A" y="73" textLength="70" lengthAdjust="spacingAndGlyphs">A</text></svg>
<svg class="L" x="1165.5" y="862.5" width="12.5" height="78" viewBox="0 0 70 73" preserveAspectRatio="none"><text class="C" y="73" textLength="70" lengthAdjust="spacingAndGlyphs">C</text></svg>
<svg class="L" x="1179.5" y="843" width="12.5" height="100.8" viewBox="0 0 70 73" preserveAspectRatio="none"><text class="A" y="73" textLength="70" lengthAdjust="spacingAndGlyphs">A</text></svg>
<svg class="L" x="1193.5" y="934" width="12.5" height="9.8" viewBox="0 0 70 73" preserveAspectRatio="none"><text class="T" y="73" textLength="70" lengthAdjust="spacingAndGlyphs">T</text></svg>
<svg class="L" x="1193.5" y="914.5" width="12.5" height="19.5" viewBox="0 0 70 73" preserveAspectRatio="none"><text class="A" y="73" textLength="70" lengthAdjust="spacingAndGlyphs">A</text></svg>
<svg class="L" x="1207.5" y="943.8" width="12.5" height="3.2" viewBox="0 0 70 73" preserveAspectRatio="none"><text class="C" y="73" textLength="70" lengthAdjust="spacingAndGlyphs">C</text></svg>
<svg class="L" x="1207.5" y="846.3" width="12.5" height="97.5" viewBox="0 0 70 73" preserveAspectRatio="none"><text class="T" y="73" textLength="70" lengthAdjust="spacingAndGlyphs">T</text></svg>
<svg class="L" x="1221.5" y="937.3" width="12.5" height="6.5" viewBox="0 0 70 73" preserveAspectRatio="none"><text class="A" y="73" textLength="70" lengthAdjust="spacingAndGlyphs">A</text></svg>
<svg class="L" x="1221.5" y="927.5" width="12.5" height="9.8" viewBox="0 0 70 73" preserveAspectRatio="none"><text class="T" y="73" textLength="70" lengthAdjust="spacingAndGlyphs">T</text></svg>
<svg class="L" x="1235.5" y="937.3" width="12.5" height="6.5" viewBox="0 0 70 73" preserveAspectRatio="none"><text class="A" y="73" textLength="70" lengthAdjust="spacingAndGlyphs">A</text></svg>
</g>

<text x="574" y="1106" textLength="146" lengthAdjust="spacingAndGlyphs" font-family="Liberation Serif, serif" font-weight="bold" font-size="46" fill="#333">Фиг. 3</text>
</svg>
</body></html>
